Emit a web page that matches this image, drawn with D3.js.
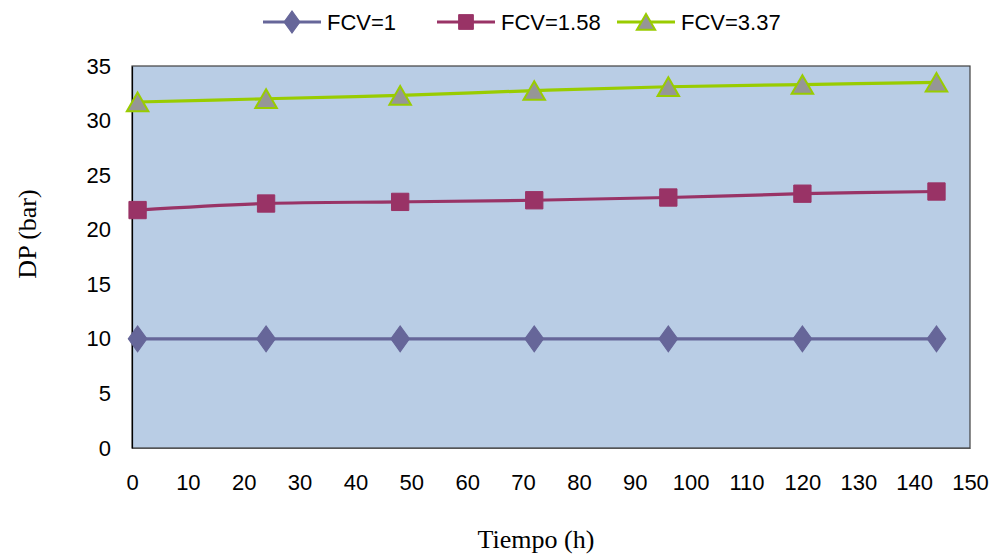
<!DOCTYPE html>
<html>
<head>
<meta charset="utf-8">
<script src="https://cdn.jsdelivr.net/npm/d3@7"></script>
<style>
  html, body { margin: 0; padding: 0; background: #fff; }
  svg { display: block; }
</style>
</head>
<body>
<svg id="chart" width="996" height="557"></svg>
<script>
// Sampling times (h)
const tiempo = [1, 24, 48, 72, 96, 120, 144];

// Pressure drop DP (bar) for each FCV value
const fcv1    = [10, 10, 10, 10, 10, 10, 10];
const fcv158  = [21.8, 22.4, 22.55, 22.7, 22.95, 23.3, 23.5];
const fcv337  = [31.7, 32.0, 32.3, 32.75, 33.1, 33.3, 33.5];

const seriesNames = ["FCV=1", "FCV=1.58", "FCV=3.37"];

const xTicks = d3.range(0, 151, 10);
const yTicks = d3.range(0, 36, 5);

const series = [
  { name: seriesNames[0], values: fcv1,   line: "#666699", fill: "#666699", stroke: "#666699", symbol: "diamond" },
  { name: seriesNames[1], values: fcv158, line: "#993366", fill: "#993366", stroke: "#993366", symbol: "square" },
  { name: seriesNames[2], values: fcv337, line: "#99CC00", fill: "#969696", stroke: "#99CC00", symbol: "triangle" }
];

const svg = d3.select("#chart");
const plot = { left: 132, top: 66, right: 970, bottom: 448 };

const x = d3.scaleLinear().domain([0, 150]).range([plot.left, plot.right]);
const y = d3.scaleLinear().domain([0, 35]).range([plot.bottom, plot.top]);

// plot background
svg.append("rect")
  .attr("x", plot.left).attr("y", plot.top)
  .attr("width", plot.right - plot.left).attr("height", plot.bottom - plot.top)
  .attr("fill", "#B9CDE5")
  .attr("stroke", "#404040").attr("stroke-width", 1.2);

// axes (labels only, no tick marks)
const xAxis = svg.append("g")
  .attr("transform", `translate(0,${plot.bottom})`)
  .call(d3.axisBottom(x).tickValues(xTicks).tickSize(0).tickPadding(26));
const yAxis = svg.append("g")
  .attr("transform", `translate(${plot.left},0)`)
  .call(d3.axisLeft(y).tickValues(yTicks).tickSize(0).tickPadding(21));

[xAxis, yAxis].forEach(g => {
  g.select(".domain").attr("stroke", "#000").attr("stroke-width", 1.2);
  g.selectAll("text")
    .attr("font-family", "Liberation Sans, Arial, sans-serif")
    .attr("font-size", 22)
    .attr("fill", "#000");
});
xAxis.select(".domain").attr("stroke", "#555");

// axis titles
svg.append("text")
  .attr("x", 536).attr("y", 548)
  .attr("text-anchor", "middle")
  .attr("font-family", "Liberation Serif, Times New Roman, serif")
  .attr("font-size", 26)
  .text("Tiempo (h)");

svg.append("text")
  .attr("transform", "translate(36,234) rotate(-90)")
  .attr("text-anchor", "middle")
  .attr("font-family", "Liberation Serif, Times New Roman, serif")
  .attr("font-size", 26)
  .text("DP (bar)");

const symbolType = {
  diamond: d3.symbolDiamond,
  square: d3.symbolSquare,
  triangle: d3.symbolTriangle
};
const symbolSize = { diamond: 190, square: 300, triangle: 200 };

function drawMarker(g, s, cx, cy, k = 1) {
  const dy = s.symbol === "triangle" ? 3 * k : 0;
  g.append("path")
    .attr("d", d3.symbol().type(symbolType[s.symbol]).size(symbolSize[s.symbol] * k * k)())
    .attr("transform", `translate(${cx},${cy + dy})` + (s.symbol === "diamond" ? " scale(1.25,1)" : ""))
    .attr("fill", s.fill)
    .attr("stroke", s.stroke)
    .attr("stroke-width", s.symbol === "triangle" ? 2 : 1);
}

const line = d3.line()
  .x((d, i) => x(tiempo[i]))
  .y(d => y(d))
  .curve(d3.curveCatmullRom.alpha(0.5));

series.forEach(s => {
  const g = svg.append("g");
  g.append("path")
    .datum(s.values)
    .attr("d", line)
    .attr("fill", "none")
    .attr("stroke", s.line)
    .attr("stroke-width", 3.2);
  s.values.forEach((v, i) => drawMarker(g, s, x(tiempo[i]), y(v)));
});

// legend
const legendX = [263, 437, 617];
series.forEach((s, i) => {
  const g = svg.append("g");
  const lx = legendX[i], ly = 22;
  g.append("line")
    .attr("x1", lx).attr("x2", lx + 58)
    .attr("y1", ly).attr("y2", ly)
    .attr("stroke", s.line).attr("stroke-width", 3.2);
  drawMarker(g, s, lx + 29, ly, 0.85);
  g.append("text")
    .attr("x", lx + 64).attr("y", ly + 8)
    .attr("font-family", "Liberation Sans, Arial, sans-serif")
    .attr("font-size", 22)
    .text(s.name);
});
</script>
</body>
</html>
